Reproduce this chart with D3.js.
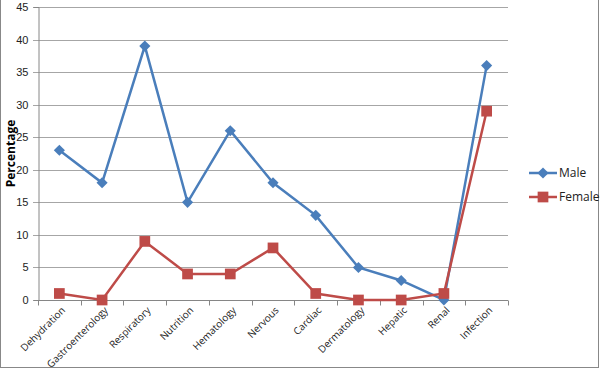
<!DOCTYPE html>
<html>
<head>
<meta charset="utf-8">
<script src="https://cdn.jsdelivr.net/npm/d3@7"></script>
<style>
  body { margin: 0; background: #fff; }
  svg { display: block; font-family: "Open Sans", "Liberation Sans", sans-serif; }
</style>
</head>
<body>
<svg id="chart" width="600" height="370"></svg>
<script>
// Diagnosis categories along the x axis
const categories = ['Dehydration', 'Gastroenterology', 'Respiratory', 'Nutrition', 'Hematology',
  'Nervous', 'Cardiac', 'Dermatology', 'Hepatic', 'Renal', 'Infection'];
const maleValues = [23, 18, 39, 15, 26, 18, 13, 5, 3, 0, 36];
const femaleValues = [1, 0, 9, 4, 4, 8, 1, 0, 0, 1, 29];
const yTicks = [0, 5, 10, 15, 20, 25, 30, 35, 40, 45];

// Diamond = square turned 45 degrees, as in the original spreadsheet chart
const series = [
  { name: 'Male', values: maleValues, color: '#4a7ebb', symbol: d3.symbolSquare, size: 62, rotate: 45 },
  { name: 'Female', values: femaleValues, color: '#be4b48', symbol: d3.symbolSquare, size: 115, rotate: 0 }
];

const svg = d3.select('#chart');
const margin = { left: 38, right: 92, top: 7, bottom: 70 };
const width = 600, height = 370;

// Outer frame of the chart area
svg.append('rect').attr('x', 0.5).attr('y', -1).attr('width', width - 2).attr('height', height - 1.5)
  .attr('fill', 'none').attr('stroke', '#888');

const x = d3.scaleBand().domain(categories).range([margin.left, width - margin.right]);
const y = d3.scaleLinear().domain([0, 45]).range([height - margin.bottom, margin.top]);

// Horizontal gridlines
svg.append('g').selectAll('line').data(yTicks).enter().append('line')
  .attr('x1', margin.left - 5).attr('x2', width - margin.right)
  .attr('y1', d => Math.round(y(d)) + 0.5).attr('y2', d => Math.round(y(d)) + 0.5)
  .attr('stroke', '#a6a6a6').attr('stroke-width', 1);

// Y axis
const yAxis = svg.append('g').attr('transform', `translate(${margin.left + 0.5},0)`)
  .call(d3.axisLeft(y).tickValues(yTicks).tickSize(5).tickPadding(5));
yAxis.select('.domain').attr('stroke', '#868686');
yAxis.selectAll('.tick line').remove();
yAxis.selectAll('text').attr('font-size', 11).attr('fill', '#222');

// X axis with ticks between categories
const xAxisY = Math.round(y(0)) + 0.5;
const xg = svg.append('g');
xg.append('line').attr('x1', margin.left).attr('x2', width - margin.right)
  .attr('y1', xAxisY).attr('y2', xAxisY).attr('stroke', '#868686');
const boundaries = categories.map(c => x(c)).concat([x.range()[1]]);
xg.selectAll('line.tk').data(boundaries).enter().append('line').attr('class', 'tk')
  .attr('x1', d => Math.round(d) + 0.5).attr('x2', d => Math.round(d) + 0.5)
  .attr('y1', xAxisY).attr('y2', xAxisY + 5).attr('stroke', '#868686');
xg.selectAll('text').data(categories).enter().append('text')
  .attr('transform', d => `translate(${x(d) + x.bandwidth() / 2 + 4},${xAxisY + 8}) rotate(-45)`)
  .attr('text-anchor', 'end').attr('dy', '0.35em')
  .attr('font-size', 10).attr('fill', '#222').text(d => d);

// Y axis title
svg.append('text').attr('transform', `translate(11,${(y(0) + y(45)) / 2}) rotate(-90)`)
  .attr('text-anchor', 'middle').attr('dy', '0.35em')
  .attr('font-size', 12).attr('font-weight', 'bold').attr('fill', '#000').text('Percentage');

// Lines and markers
const line = d3.line().x((d, i) => x(categories[i]) + x.bandwidth() / 2).y(d => y(d));
series.forEach(s => {
  svg.append('path').datum(s.values).attr('d', line)
    .attr('fill', 'none').attr('stroke', s.color).attr('stroke-width', 2.5);
  svg.append('g').selectAll('path').data(s.values).enter().append('path')
    .attr('transform', (d, i) => `translate(${x(categories[i]) + x.bandwidth() / 2},${y(d)}) rotate(${s.rotate})`)
    .attr('d', d3.symbol().type(s.symbol).size(s.size)).attr('fill', s.color);
});

// Legend
const legend = svg.append('g').attr('transform', 'translate(529,173)');
series.forEach((s, i) => {
  const g = legend.append('g').attr('transform', `translate(0,${i * 24})`);
  g.append('line').attr('x1', 0).attr('x2', 28).attr('stroke', s.color).attr('stroke-width', 2.5);
  g.append('path').attr('transform', `translate(14,0) rotate(${s.rotate})`)
    .attr('d', d3.symbol().type(s.symbol).size(s.size)).attr('fill', s.color);
  g.append('text').attr('x', 30).attr('dy', '0.35em').attr('font-size', 12).attr('fill', '#222').text(s.name);
});
</script>
</body>
</html>
